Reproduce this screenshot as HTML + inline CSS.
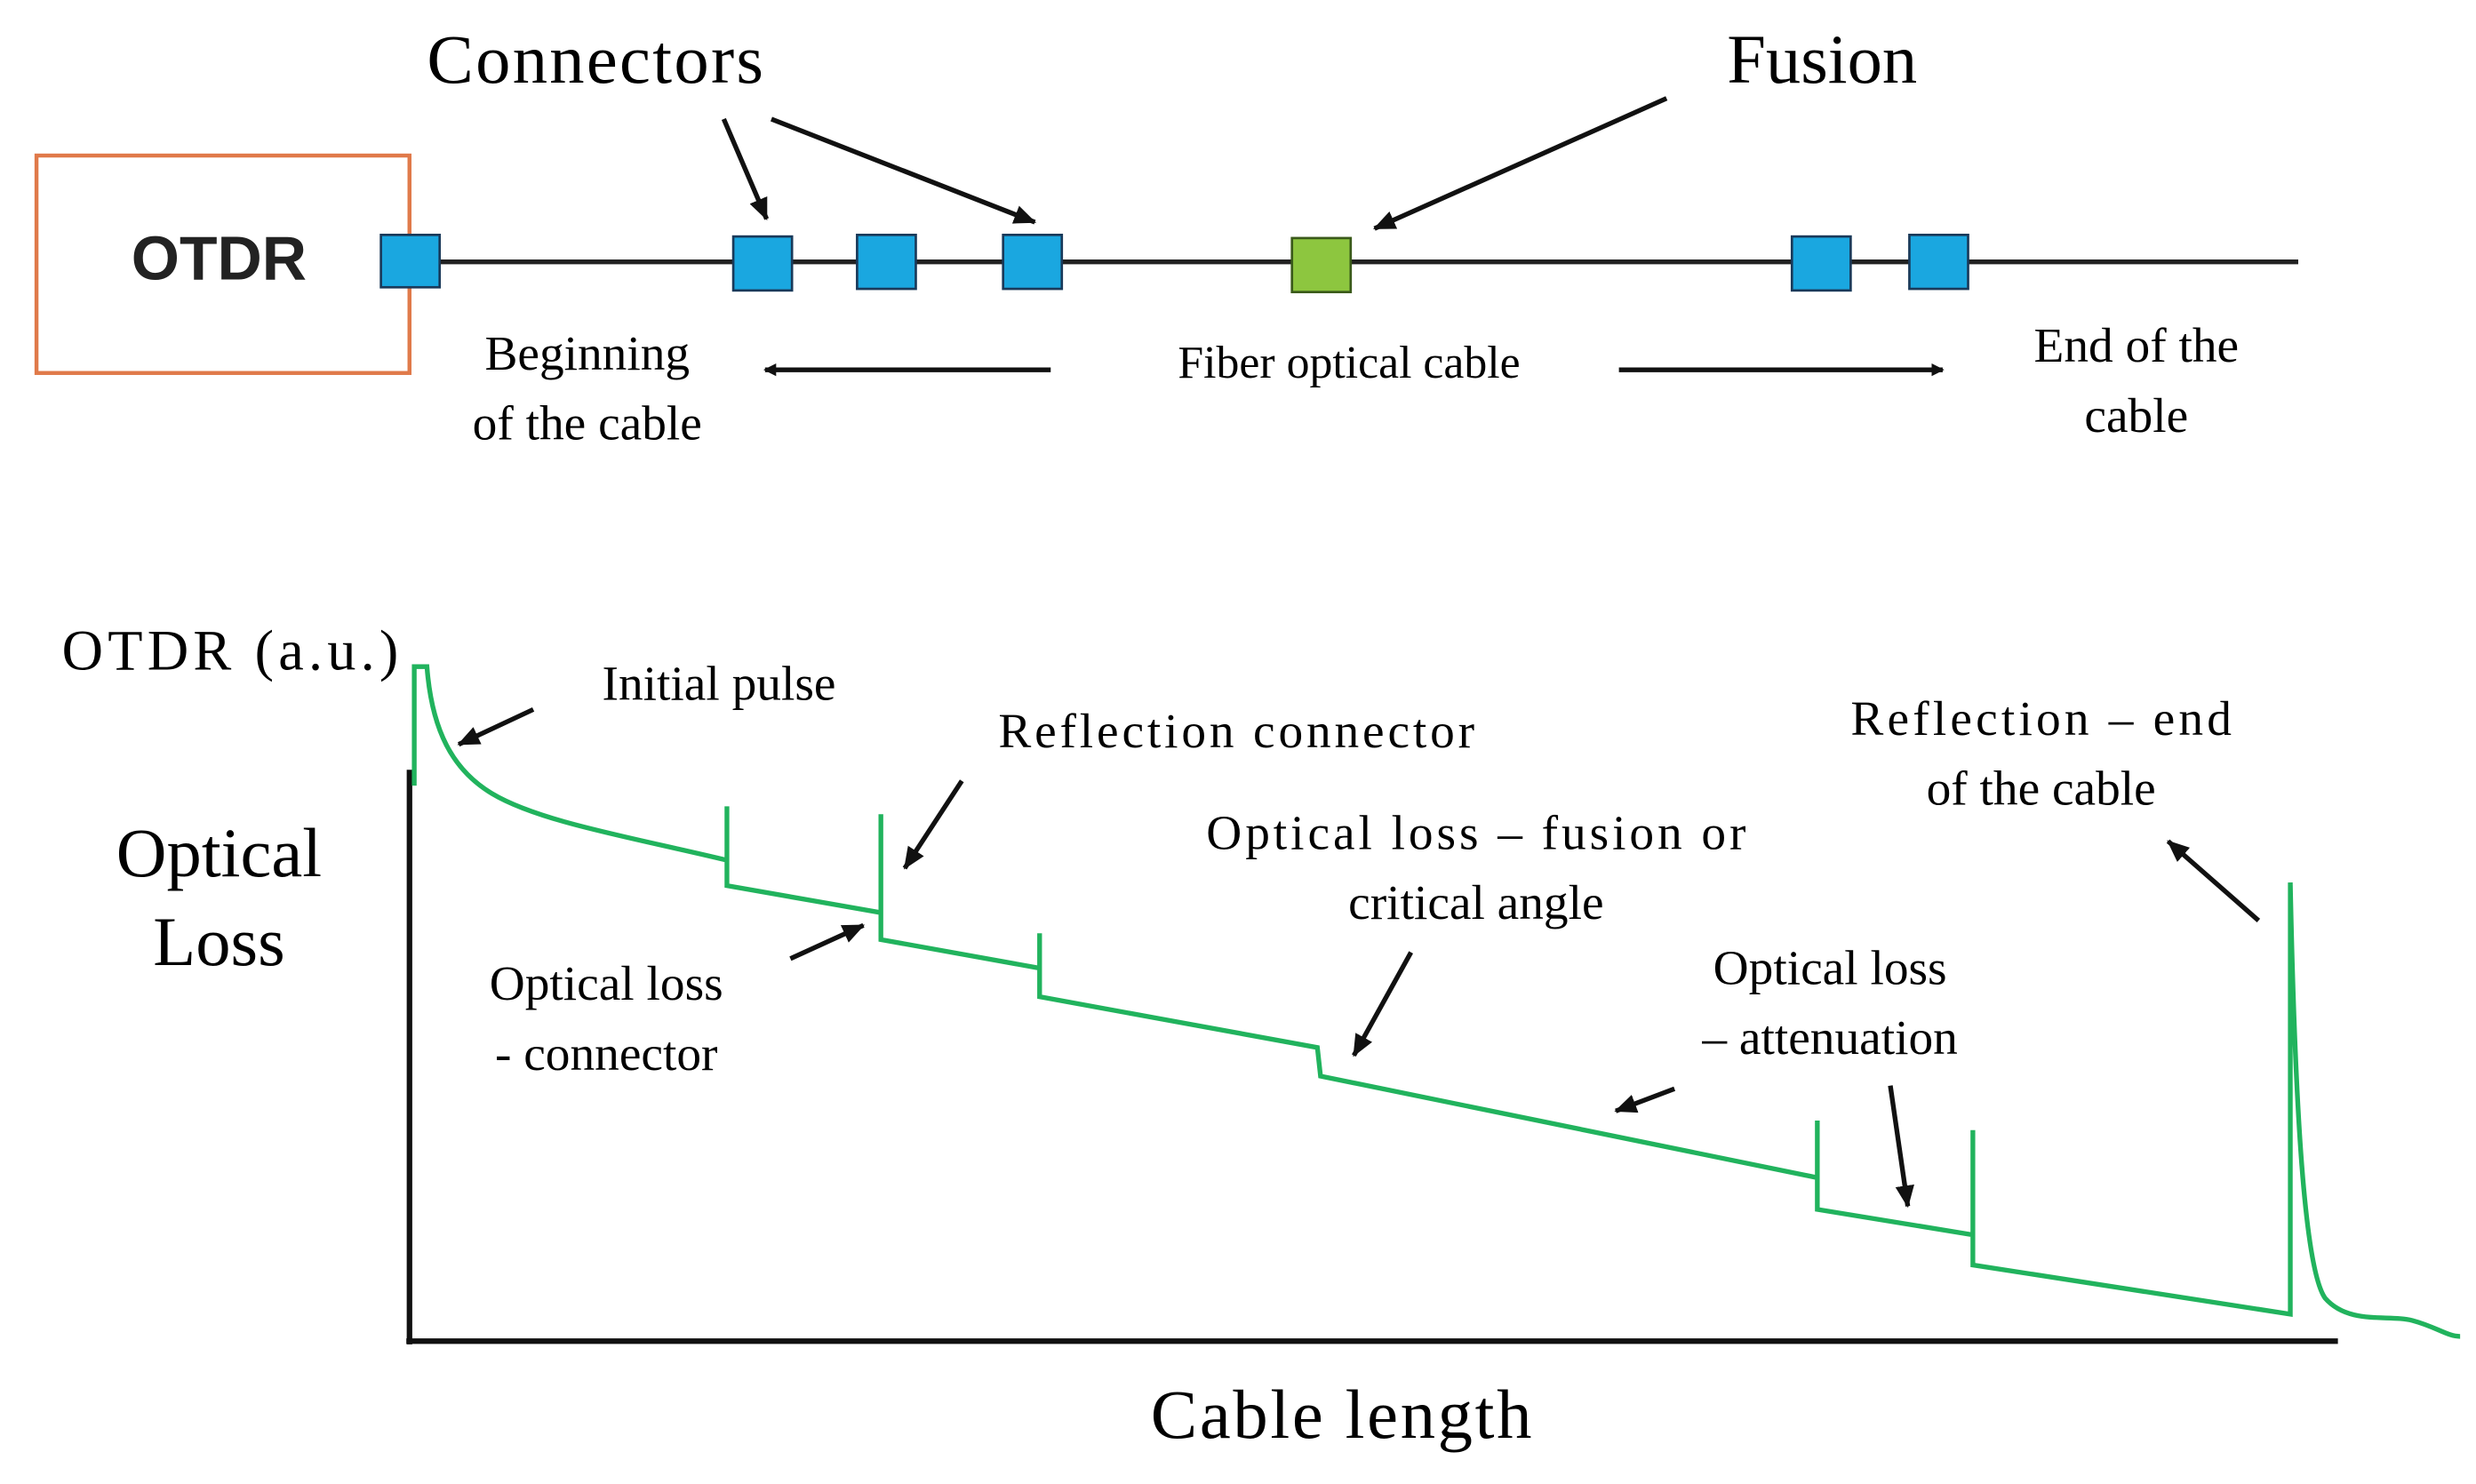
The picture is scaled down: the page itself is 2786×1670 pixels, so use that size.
<!DOCTYPE html>
<html><head><style>html,body{margin:0;padding:0;background:#fff}svg{display:block}</style></head>
<body>
<svg width="2786" height="1670" viewBox="0 0 1560 935" preserveAspectRatio="none" xmlns="http://www.w3.org/2000/svg" font-family="Liberation Serif, serif">
<defs>
<marker id="a" markerWidth="8" markerHeight="8" refX="7" refY="4" orient="auto" markerUnits="userSpaceOnUse"><path d="M0,0 L8,4 L0,8 z" fill="#111"/></marker>
<marker id="b" markerWidth="14" markerHeight="12" refX="13" refY="6" orient="auto" markerUnits="userSpaceOnUse"><path d="M0,0 L14,6 L0,12 z" fill="#111"/></marker>
</defs>
<rect x="23" y="98" width="235" height="137" fill="none" stroke="#e07a4a" stroke-width="2.5"/>
<text x="138" y="176" font-family="Liberation Sans, sans-serif" font-weight="bold" font-size="39" text-anchor="middle" fill="#222">OTDR</text>
<line x1="258" y1="165" x2="1448" y2="165" stroke="#222" stroke-width="3"/>
<g fill="#1aa7e0" stroke="#1a3a5a" stroke-width="1.5">
<rect x="240" y="148" width="37" height="33"/>
<rect x="462" y="149" width="37" height="34"/>
<rect x="540" y="148" width="37" height="34"/>
<rect x="632" y="148" width="37" height="34"/>
<rect x="1129" y="149" width="37" height="34"/>
<rect x="1203" y="148" width="37" height="34"/>
</g>
<rect x="814" y="150" width="37" height="34" fill="#8dc63f" stroke="#3a5a1a" stroke-width="1.5"/>
<text x="375" y="52" font-size="44" text-anchor="middle" textLength="212">Connectors</text>
<text x="1148" y="52" font-size="44" text-anchor="middle">Fusion</text>
<g stroke="#111" stroke-width="3" fill="none">
<line x1="456" y1="75" x2="483" y2="138" marker-end="url(#b)"/>
<line x1="486" y1="75" x2="652" y2="140" marker-end="url(#b)"/>
<line x1="1050" y1="62" x2="866" y2="144" marker-end="url(#b)"/>
<line x1="662" y1="233" x2="482" y2="233" marker-end="url(#a)"/>
<line x1="1020" y1="233" x2="1224" y2="233" marker-end="url(#a)"/>
</g>
<text x="370" y="233" font-size="31" text-anchor="middle">Beginning</text>
<text x="370" y="277" font-size="31" text-anchor="middle">of the cable</text>
<text x="850" y="238" font-size="29" text-anchor="middle">Fiber optical cable</text>
<text x="1346" y="228" font-size="31" text-anchor="middle">End of the</text>
<text x="1346" y="272" font-size="31" text-anchor="middle">cable</text>
<text x="145" y="422" font-size="36" text-anchor="middle" textLength="212">OTDR (a.u.)</text>
<text x="138" y="552" font-size="44" text-anchor="middle">Optical</text>
<text x="138" y="608" font-size="44" text-anchor="middle">Loss</text>
<text x="845" y="906" font-size="44" text-anchor="middle" textLength="240">Cable length</text>
<g stroke="#111" stroke-width="3.5" fill="none">
<line x1="258" y1="485" x2="258" y2="847"/>
<line x1="256" y1="845" x2="1473" y2="845"/>
</g>
<path d="M261,495 L261,420 L269,420 C272,460 285,485 310,500 C340,518 400,528 458,542 L458,508 L458,558 L555,575 L555,513 L555,592 L655,610 L655,588 L655,628 L830,660 L832,678 L1145,742 L1145,706 L1145,762 L1243,778 L1243,712 L1243,797 L1443,828 L1443,556 C1446,700 1452,800 1465,818 C1480,835 1505,828 1520,832 C1535,836 1542,842 1550,842" fill="none" stroke="#21b35d" stroke-width="3"/>
<text x="453" y="441" font-size="31" text-anchor="middle">Initial pulse</text>
<text x="779" y="471" font-size="31" text-anchor="middle" textLength="300">Reflection  connector</text>
<text x="930" y="535" font-size="31" text-anchor="middle" textLength="340">Optical loss – fusion or</text>
<text x="930" y="579" font-size="31" text-anchor="middle">critical angle</text>
<text x="382" y="630" font-size="31" text-anchor="middle">Optical loss</text>
<text x="382" y="674" font-size="31" text-anchor="middle">- connector</text>
<text x="1153" y="620" font-size="31" text-anchor="middle">Optical loss</text>
<text x="1153" y="664" font-size="31" text-anchor="middle">– attenuation</text>
<text x="1286" y="463" font-size="31" text-anchor="middle" textLength="240">Reflection  – end</text>
<text x="1286" y="507" font-size="31" text-anchor="middle">of the cable</text>
<g stroke="#111" stroke-width="3" fill="none">
<line x1="336" y1="447" x2="289" y2="469" marker-end="url(#b)"/>
<line x1="606" y1="492" x2="570" y2="547" marker-end="url(#b)"/>
<line x1="498" y1="604" x2="544" y2="583" marker-end="url(#b)"/>
<line x1="889" y1="600" x2="853" y2="665" marker-end="url(#b)"/>
<line x1="1055" y1="686" x2="1018" y2="700" marker-end="url(#b)"/>
<line x1="1191" y1="684" x2="1202" y2="760" marker-end="url(#b)"/>
<line x1="1423" y1="580" x2="1366" y2="530" marker-end="url(#b)"/>
</g>
</svg>
</body></html>
